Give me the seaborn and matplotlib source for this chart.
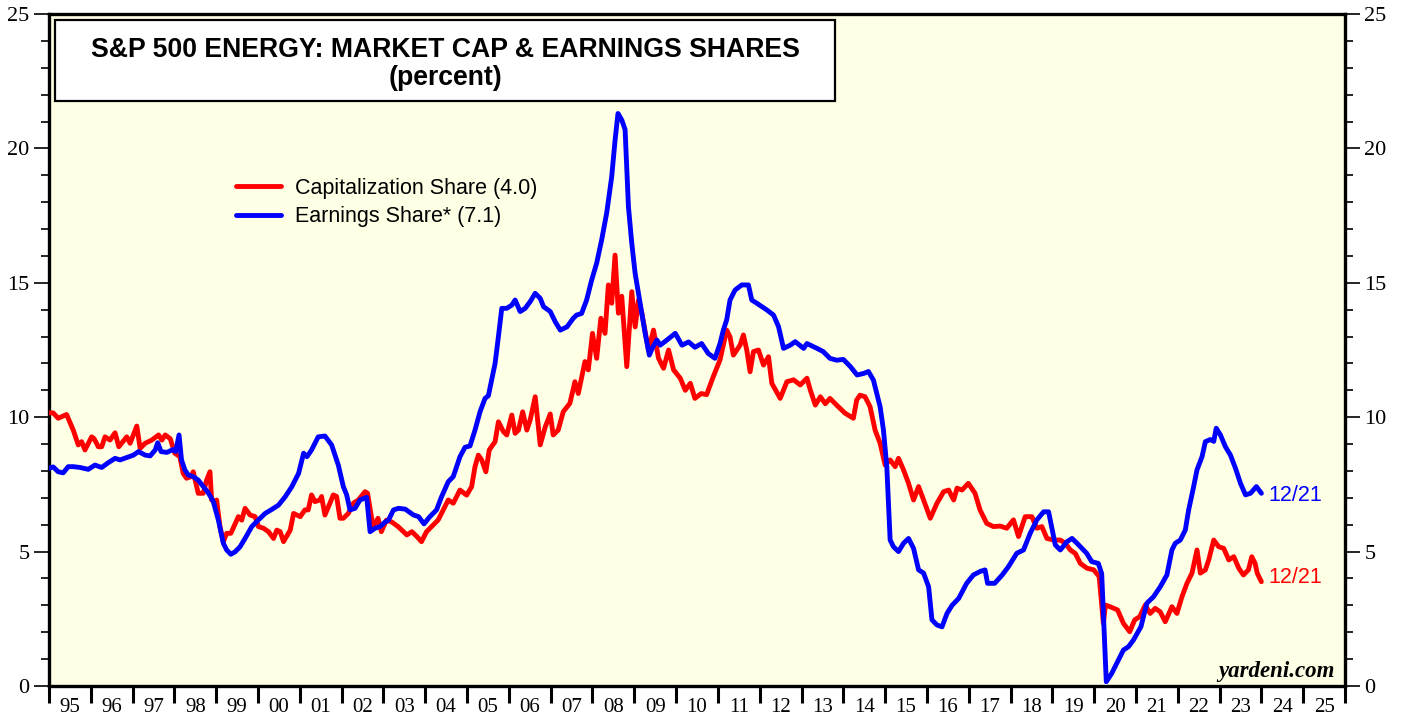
import matplotlib
matplotlib.use("Agg")
import matplotlib.pyplot as plt
import seaborn as sns
import pandas as pd
from matplotlib.patches import Rectangle
from matplotlib.lines import Line2D
from matplotlib.ticker import MultipleLocator, FixedLocator

# ---------------- data ----------------
cap_years = [
    1995.00, 1995.10, 1995.22, 1995.42, 1995.58, 1995.70, 1995.78, 1995.86, 1996.02, 1996.08,
    1996.18, 1996.26, 1996.34, 1996.46, 1996.58, 1996.67, 1996.86, 1996.94, 1997.10, 1997.18,
    1997.30, 1997.46, 1997.62, 1997.70, 1997.78, 1997.90, 1998.01, 1998.13, 1998.21, 1998.29,
    1998.40, 1998.45, 1998.57, 1998.69, 1998.77, 1998.85, 1998.89, 1998.97, 1999.01, 1999.09,
    1999.17, 1999.25, 1999.35, 1999.53, 1999.61, 1999.69, 1999.81, 1999.93, 2000.01, 2000.13,
    2000.25, 2000.37, 2000.45, 2000.53, 2000.61, 2000.77, 2000.85, 2001.01, 2001.12, 2001.20,
    2001.28, 2001.36, 2001.48, 2001.52, 2001.60, 2001.72, 2001.80, 2001.88, 2001.96, 2002.04,
    2002.16, 2002.28, 2002.40, 2002.56, 2002.62, 2002.75, 2002.87, 2002.95, 2003.07, 2003.20,
    2003.35, 2003.48, 2003.56, 2003.68, 2003.80, 2003.91, 2004.03, 2004.15, 2004.31, 2004.43,
    2004.55, 2004.67, 2004.83, 2004.99, 2005.11, 2005.19, 2005.27, 2005.35, 2005.45, 2005.53,
    2005.67, 2005.75, 2005.87, 2005.95, 2006.07, 2006.15, 2006.23, 2006.33, 2006.43, 2006.51,
    2006.63, 2006.75, 2006.87, 2006.99, 2007.06, 2007.18, 2007.30, 2007.46, 2007.58, 2007.66,
    2007.82, 2007.90, 2008.00, 2008.10, 2008.20, 2008.30, 2008.38, 2008.46, 2008.54, 2008.62,
    2008.70, 2008.82, 2008.94, 2009.02, 2009.10, 2009.18, 2009.34, 2009.46, 2009.58, 2009.70,
    2009.82, 2009.94, 2010.10, 2010.22, 2010.34, 2010.45, 2010.60, 2010.73, 2010.89, 2011.05,
    2011.21, 2011.29, 2011.37, 2011.53, 2011.61, 2011.69, 2011.77, 2011.85, 2011.97, 2012.09,
    2012.21, 2012.29, 2012.49, 2012.65, 2012.81, 2012.97, 2013.13, 2013.21, 2013.33, 2013.45,
    2013.57, 2013.68, 2013.84, 2014.04, 2014.24, 2014.32, 2014.40, 2014.52, 2014.64, 2014.76,
    2014.88, 2015.00, 2015.12, 2015.24, 2015.32, 2015.44, 2015.56, 2015.68, 2015.80, 2015.92,
    2016.08, 2016.24, 2016.40, 2016.52, 2016.64, 2016.72, 2016.84, 2016.99, 2017.15, 2017.27,
    2017.43, 2017.59, 2017.75, 2017.91, 2018.07, 2018.19, 2018.35, 2018.51, 2018.63, 2018.75,
    2018.87, 2019.03, 2019.19, 2019.31, 2019.43, 2019.55, 2019.67, 2019.83, 2019.99, 2020.12,
    2020.22, 2020.27, 2020.38, 2020.56, 2020.70, 2020.85, 2020.97, 2021.09, 2021.22, 2021.34,
    2021.46, 2021.58, 2021.70, 2021.86, 2021.98, 2022.10, 2022.22, 2022.34, 2022.46, 2022.54,
    2022.66, 2022.74, 2022.86, 2022.98, 2023.10, 2023.22, 2023.34, 2023.46, 2023.57, 2023.69,
    2023.77, 2023.85, 2023.90, 2024.00,
]
cap_share = [
    10.16, 10.16, 9.96, 10.10, 9.52, 8.97, 9.09, 8.78, 9.27, 9.20,
    8.90, 8.90, 9.27, 9.15, 9.42, 8.90, 9.27, 9.03, 9.67, 8.84,
    9.03, 9.15, 9.34, 9.15, 9.34, 9.20, 8.66, 8.53, 7.91, 7.73,
    7.79, 7.97, 7.17, 7.17, 7.66, 7.97, 6.92, 6.86, 6.92, 5.93,
    5.37, 5.68, 5.68, 6.30, 6.17, 6.61, 6.36, 6.30, 5.93, 5.87,
    5.74, 5.49, 5.80, 5.74, 5.37, 5.80, 6.42, 6.30, 6.55, 6.55,
    7.11, 6.86, 6.92, 7.05, 6.36, 6.80, 7.11, 7.05, 6.24, 6.24,
    6.42, 6.80, 6.92, 7.23, 7.17, 5.93, 6.24, 5.74, 6.17, 6.10,
    5.93, 5.74, 5.62, 5.74, 5.56, 5.37, 5.74, 5.93, 6.18, 6.55,
    6.92, 6.80, 7.29, 7.10, 7.42, 8.16, 8.59, 8.41, 7.97, 8.78,
    9.09, 9.83, 9.46, 9.34, 10.08, 9.40, 9.52, 10.20, 9.52, 9.90,
    10.76, 8.97, 9.64, 10.12, 9.34, 9.52, 10.20, 10.52, 11.32, 10.88,
    12.07, 11.76, 13.12, 12.19, 13.68, 13.12, 14.92, 14.24, 16.03, 13.87,
    14.50, 11.88, 14.67, 13.36, 14.36, 13.87, 12.50, 13.24, 12.19, 11.82,
    12.50, 11.76, 11.45, 11.00, 11.26, 10.70, 10.88, 10.84, 11.51, 12.13,
    13.24, 12.99, 12.31, 12.68, 13.06, 12.50, 11.69, 12.44, 12.50, 11.94,
    12.25, 11.26, 10.70, 11.32, 11.39, 11.20, 11.45, 11.01, 10.45, 10.76,
    10.50, 10.70, 10.45, 10.15, 9.96, 10.64, 10.82, 10.76, 10.39, 9.52,
    9.03, 8.22, 8.41, 8.16, 8.47, 8.04, 7.54, 6.92, 7.42, 6.92,
    6.24, 6.80, 7.23, 7.29, 6.92, 7.36, 7.29, 7.54, 7.17, 6.55,
    6.05, 5.93, 5.95, 5.87, 6.18, 5.56, 6.30, 6.30, 5.87, 5.93,
    5.49, 5.43, 5.43, 5.31, 5.06, 4.93, 4.56, 4.38, 4.32, 4.07,
    2.33, 3.01, 2.95, 2.83, 2.33, 2.02, 2.46, 2.58, 3.01, 2.70,
    2.89, 2.76, 2.39, 2.95, 2.70, 3.32, 3.82, 4.20, 5.06, 4.20,
    4.32, 4.69, 5.43, 5.18, 5.12, 4.69, 4.81, 4.38, 4.13, 4.32,
    4.81, 4.56, 4.20, 3.88,
]

earn_years = [
    1995.00, 1995.10, 1995.22, 1995.34, 1995.46, 1995.58, 1995.74, 1995.94, 1996.10, 1996.26,
    1996.42, 1996.58, 1996.70, 1996.86, 1997.02, 1997.14, 1997.30, 1997.42, 1997.54, 1997.60,
    1997.68, 1997.82, 1997.97, 1998.03, 1998.11, 1998.17, 1998.25, 1998.33, 1998.45, 1998.57,
    1998.69, 1998.81, 1998.93, 1999.05, 1999.17, 1999.25, 1999.35, 1999.45, 1999.57, 1999.69,
    1999.85, 2000.01, 2000.17, 2000.33, 2000.49, 2000.65, 2000.81, 2000.97, 2001.09, 2001.17,
    2001.28, 2001.44, 2001.60, 2001.76, 2001.92, 2002.04, 2002.12, 2002.20, 2002.32, 2002.44,
    2002.60, 2002.68, 2002.80, 2002.92, 2003.04, 2003.12, 2003.24, 2003.36, 2003.52, 2003.72,
    2003.84, 2003.97, 2004.11, 2004.27, 2004.39, 2004.55, 2004.67, 2004.83, 2004.95, 2005.07,
    2005.19, 2005.31, 2005.43, 2005.51, 2005.67, 2005.75, 2005.83, 2005.95, 2006.07, 2006.15,
    2006.27, 2006.39, 2006.51, 2006.63, 2006.75, 2006.83, 2006.99, 2007.11, 2007.23, 2007.39,
    2007.54, 2007.62, 2007.74, 2007.86, 2007.98, 2008.10, 2008.22, 2008.34, 2008.46, 2008.54,
    2008.61, 2008.70, 2008.78, 2008.86, 2008.94, 2009.02, 2009.14, 2009.26, 2009.36, 2009.44,
    2009.54, 2009.62, 2009.78, 2009.98, 2010.14, 2010.30, 2010.45, 2010.61, 2010.77, 2010.93,
    2011.05, 2011.13, 2011.21, 2011.29, 2011.41, 2011.57, 2011.73, 2011.81, 2011.93, 2012.17,
    2012.33, 2012.45, 2012.57, 2012.73, 2012.85, 2013.05, 2013.13, 2013.37, 2013.52, 2013.68,
    2013.84, 2014.00, 2014.17, 2014.33, 2014.49, 2014.60, 2014.72, 2014.88, 2014.96, 2015.04,
    2015.08, 2015.12, 2015.20, 2015.32, 2015.44, 2015.56, 2015.68, 2015.80, 2015.92, 2016.04,
    2016.12, 2016.24, 2016.36, 2016.48, 2016.60, 2016.76, 2016.95, 2017.11, 2017.27, 2017.39,
    2017.45, 2017.62, 2017.80, 2017.95, 2018.15, 2018.31, 2018.47, 2018.63, 2018.79, 2018.91,
    2018.99, 2019.07, 2019.19, 2019.35, 2019.47, 2019.59, 2019.71, 2019.82, 2019.94, 2020.10,
    2020.18, 2020.24, 2020.29, 2020.42, 2020.54, 2020.70, 2020.82, 2020.94, 2021.12, 2021.26,
    2021.42, 2021.58, 2021.74, 2021.86, 2021.94, 2022.06, 2022.18, 2022.26, 2022.38, 2022.46,
    2022.58, 2022.66, 2022.78, 2022.86, 2022.92, 2023.02, 2023.14, 2023.26, 2023.38, 2023.50,
    2023.62, 2023.74, 2023.88, 2024.00,
]
earn_share = [
    8.10, 8.15, 7.97, 7.93, 8.16, 8.16, 8.13, 8.06, 8.22, 8.13,
    8.31, 8.47, 8.41, 8.50, 8.59, 8.72, 8.59, 8.56, 8.78, 9.05,
    8.72, 8.69, 8.80, 8.72, 9.34, 8.41, 8.04, 7.85, 7.79, 7.66,
    7.42, 7.19, 6.86, 6.18, 5.31, 5.06, 4.90, 4.99, 5.18, 5.49,
    5.93, 6.18, 6.42, 6.57, 6.73, 7.04, 7.42, 7.91, 8.66, 8.53,
    8.78, 9.27, 9.30, 8.97, 8.22, 7.42, 7.11, 6.55, 6.61, 6.92,
    7.02, 5.74, 5.87, 5.93, 6.10, 6.17, 6.55, 6.61, 6.58, 6.36,
    6.30, 6.03, 6.30, 6.55, 7.04, 7.60, 7.79, 8.53, 8.88, 8.93,
    9.52, 10.20, 10.70, 10.80, 12.00, 13.00, 14.05, 14.05, 14.17, 14.36,
    13.93, 14.05, 14.30, 14.61, 14.42, 14.11, 13.93, 13.55, 13.24, 13.36,
    13.68, 13.80, 13.86, 14.36, 15.10, 15.73, 16.60, 17.60, 18.95, 20.30,
    21.30, 21.06, 20.70, 17.83, 16.47, 15.35, 14.24, 13.12, 12.31, 12.60,
    12.87, 12.68, 12.87, 13.12, 12.68, 12.80, 12.60, 12.74, 12.37, 12.19,
    12.74, 13.24, 13.62, 14.36, 14.73, 14.92, 14.92, 14.36, 14.24, 13.99,
    13.80, 13.37, 12.56, 12.68, 12.81, 12.56, 12.74, 12.56, 12.44, 12.19,
    12.12, 12.15, 11.88, 11.57, 11.63, 11.70, 11.38, 10.39, 9.52, 8.16,
    6.80, 5.43, 5.18, 5.00, 5.31, 5.49, 5.12, 4.32, 4.20, 3.69,
    2.46, 2.27, 2.20, 2.70, 3.00, 3.26, 3.82, 4.13, 4.26, 4.32,
    3.82, 3.82, 4.13, 4.44, 4.94, 5.06, 5.68, 6.18, 6.48, 6.48,
    5.87, 5.25, 5.06, 5.37, 5.49, 5.31, 5.12, 4.94, 4.63, 4.56,
    4.18, 1.96, 0.16, 0.47, 0.84, 1.34, 1.46, 1.71, 2.21, 3.08,
    3.32, 3.69, 4.13, 5.06, 5.31, 5.43, 5.80, 6.55, 7.42, 8.04,
    8.53, 9.09, 9.17, 9.10, 9.59, 9.34, 8.90, 8.59, 8.10, 7.54,
    7.11, 7.17, 7.42, 7.17,
]

year_labels = ["95", "96", "97", "98", "99", "00", "01", "02", "03", "04", "05",
               "06", "07", "08", "09", "10", "11", "12", "13", "14", "15", "16",
               "17", "18", "19", "20", "21", "22", "23", "24", "25"]
legend_labels = ["Capitalization Share (4.0)", "Earnings Share* (7.1)"]
end_label = "12/21"

# ---------------- figure ----------------
sns.set_theme(style="ticks")
plt.rcParams["font.family"] = ["Liberation Sans", "DejaVu Sans"]
plt.rcParams["text.color"] = "black"
plt.rcParams["axes.labelcolor"] = "black"
plt.rcParams["xtick.color"] = "black"
plt.rcParams["ytick.color"] = "black"
plt.rcParams["axes.edgecolor"] = "black"

RED = "#FF0000"
BLUE = "#0000FF"
BG = "#FFFFE6"

fig = plt.figure(figsize=(14.05, 7.17), dpi=100)
ax = fig.add_axes([49 / 1405, 1 - 686 / 717, 1296 / 1405, 672 / 717])
ax.set_facecolor(BG)

cap_df = pd.DataFrame({"year": cap_years, "share": cap_share})
earn_df = pd.DataFrame({"year": earn_years, "share": earn_share})

sns.lineplot(data=cap_df, x="year", y="share", color=RED, lw=3.5, ax=ax,
             estimator=None, sort=False, zorder=3)
sns.lineplot(data=earn_df, x="year", y="share", color=BLUE, lw=3.5, ax=ax,
             estimator=None, sort=False, zorder=4)

ax.set_xlim(1995, 2026)
ax.set_ylim(0, 25)
ax.set_xlabel("")
ax.set_ylabel("")

# y axis ticks on both sides
ax.yaxis.set_major_locator(MultipleLocator(5))
ax.yaxis.set_minor_locator(MultipleLocator(1))
ax.tick_params(axis="y", which="major", direction="out", length=11, width=1.2,
               left=True, right=True, labelleft=True, labelright=True,
               labelsize=16, pad=3, colors="black")
ax.tick_params(axis="y", which="minor", direction="out", length=6, width=1.2,
               left=True, right=True, colors="black")
for lab in ax.get_yticklabels():
    lab.set_fontfamily("Liberation Serif")

# x axis: year boundaries as major ticks, labels centered between
ax.xaxis.set_major_locator(FixedLocator(list(range(1995, 2027))))
ax.xaxis.set_minor_locator(FixedLocator([y + 0.5 for y in range(1995, 2026)]))
ax.set_xticklabels([""] * 32)
ax.set_xticklabels(year_labels, minor=True)
ax.tick_params(axis="x", which="major", direction="out", length=12, width=2.2,
               bottom=True, top=False, colors="black")
ax.tick_params(axis="x", which="minor", length=0, labelsize=15, pad=8.5,
               colors="black")
for lab in ax.get_xticklabels(minor=True):
    lab.set_fontfamily("Liberation Serif")

for side in ["left", "right", "bottom", "top"]:
    ax.spines[side].set_visible(True)
    ax.spines[side].set_color("black")
    ax.spines[side].set_linewidth(2.4)

# title box
ax.add_patch(Rectangle((6 / 1296, 1 - 87 / 672), (835 - 55) / 1296, 81 / 672,
                       transform=ax.transAxes, facecolor="white", edgecolor="black",
                       lw=1.6, zorder=6))
ax.text(0.3056, 0.946, "S&P 500 ENERGY: MARKET CAP & EARNINGS SHARES",
        transform=ax.transAxes, ha="center", va="center", fontsize=19.2,
        fontweight="bold", color="black", zorder=7)
ax.text(0.3056, 0.905, "(percent)", transform=ax.transAxes, ha="center",
        va="center", fontsize=19.2, fontweight="bold", color="black", zorder=7)

# legend
handles = [Line2D([], [], color=RED, lw=3.5), Line2D([], [], color=BLUE, lw=3.5)]
leg = ax.legend(handles, legend_labels, loc="upper left",
                bbox_to_anchor=(0.1443, 0.756), frameon=False, fontsize=15.5,
                handlelength=2.1, handletextpad=0.65, labelspacing=0.33,
                borderpad=0, borderaxespad=0)
for t in leg.get_texts():
    t.set_color("black")

# end labels
ax.text(2024.16, earn_share[-1] - 0.1, end_label, color=BLUE, fontsize=15.5,
        ha="left", va="center")
ax.text(2024.16, cap_share[-1] + 0.15, end_label, color=RED, fontsize=15.5,
        ha="left", va="center")

# watermark
ax.text(0.992, 0.013, "yardeni.com", transform=ax.transAxes, ha="right",
        va="baseline", fontsize=16.5, fontweight="bold", fontstyle="italic",
        fontfamily="Liberation Serif", color="black")

fig.savefig("out.png", dpi=100, facecolor="white")
